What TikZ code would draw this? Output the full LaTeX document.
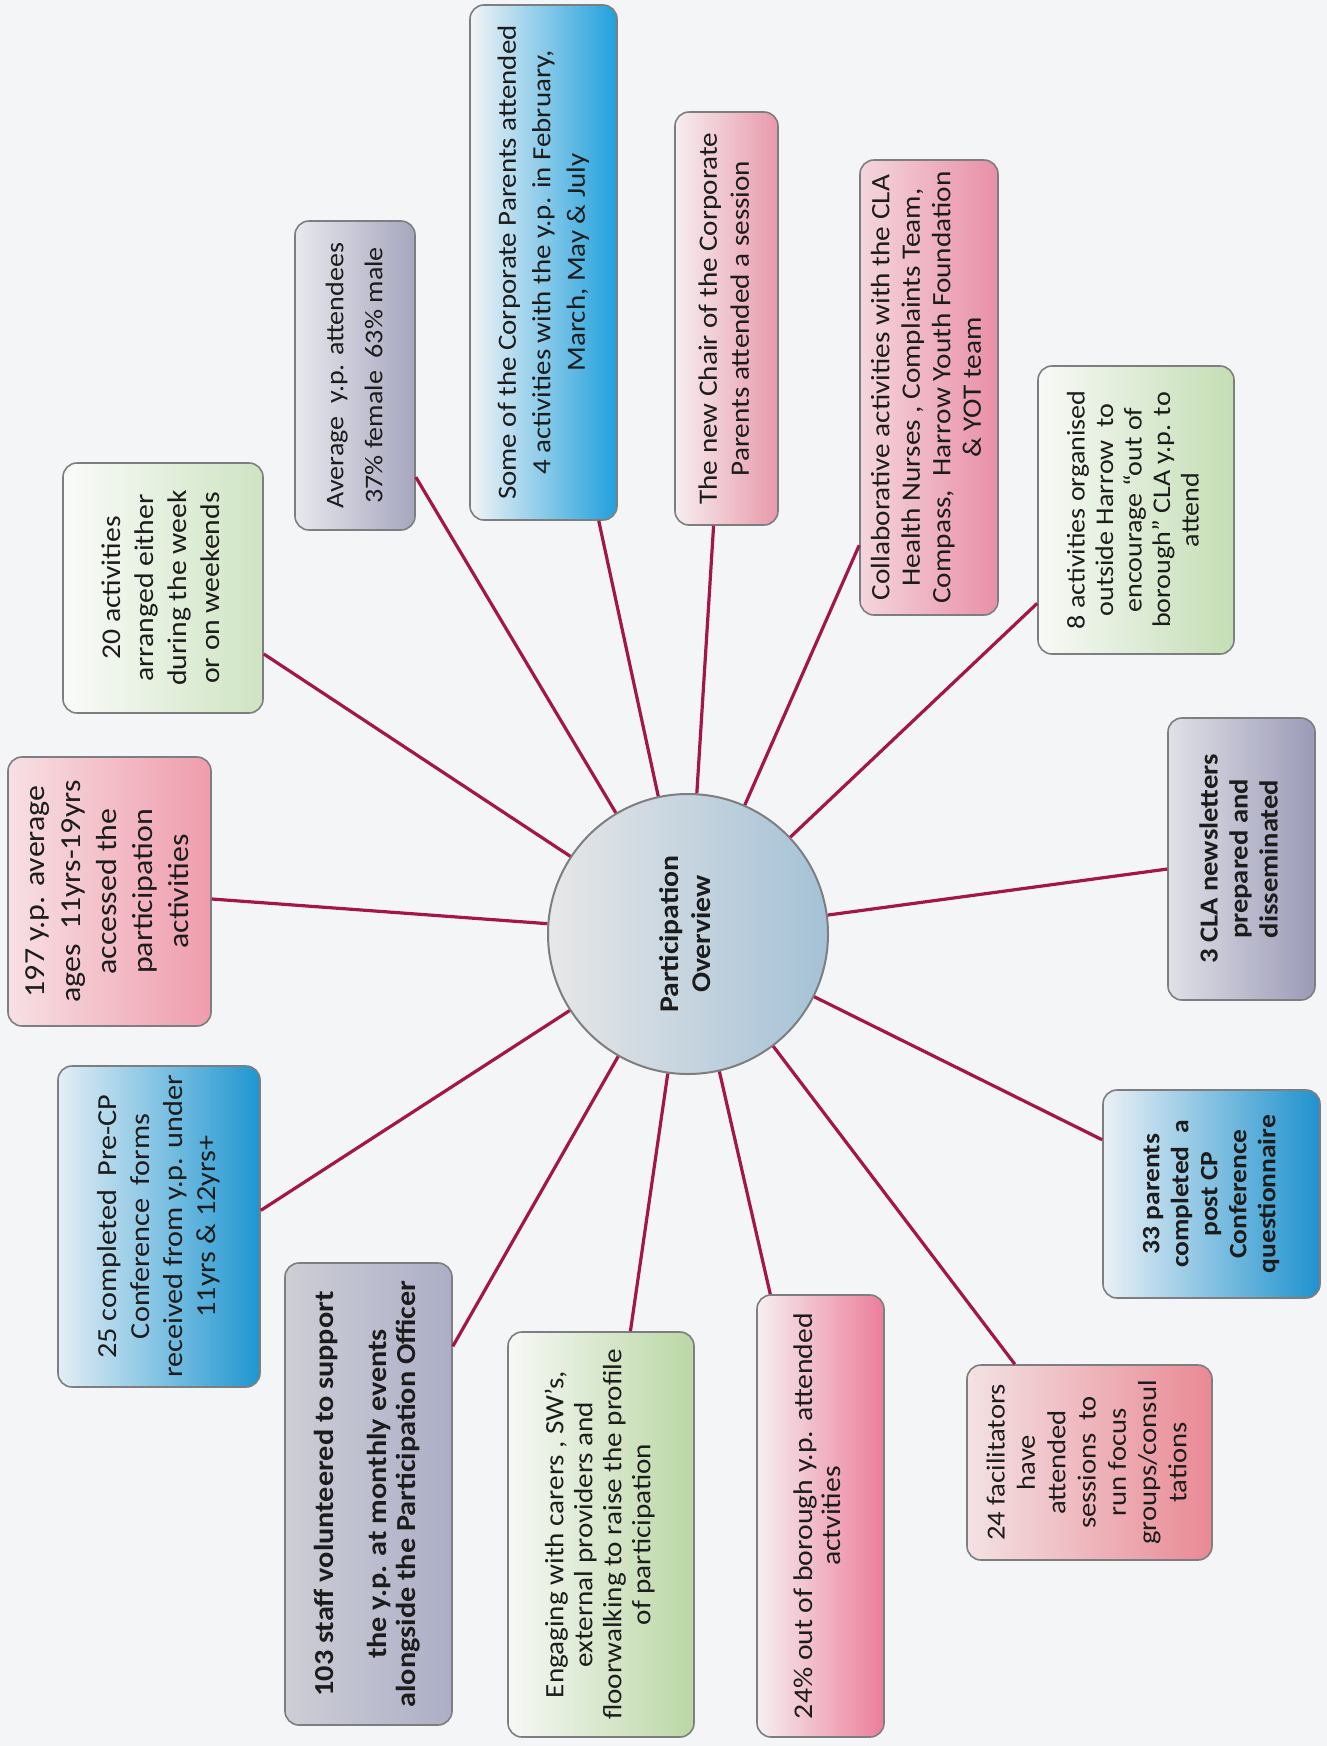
\documentclass[tikz,border=0pt]{standalone}
\usepackage{fontspec}
\usepackage{graphicx}
\setmainfont{Carlito}[FakeStretch=1.1]
\usetikzlibrary{calc}
\definecolor{pagebg}{HTML}{F4F5F7}
\definecolor{boxborder}{HTML}{7E7E80}
\definecolor{spokecol}{HTML}{A2164A}
\definecolor{txt}{HTML}{1C1C1C}
\newcommand{\bxt}[3]{\rotatebox{90}{\fontsize{#1}{#2}\selectfont\begin{tabular}{@{}c@{}}#3\end{tabular}}}
\tikzset{
  bx/.style={draw=boxborder, line width=1.6pt, rounded corners=14pt, inner sep=0pt, text=txt},
  spoke/.style={draw=spokecol, line width=3.2pt},
}
\begin{document}
\begin{tikzpicture}[x=1pt,y=-1pt]
\useasboundingbox[fill=pagebg] (0,0) rectangle (1327,1746);

% central circle
\node[circle, draw=boxborder, line width=2pt, minimum size=280pt, inner sep=0pt,
      left color=white!88!blue!10!gray!20, right color={rgb,255:red,164;green,193;blue,214}, text=txt] (c) at (688,934)
  {\rotatebox{90}{\bfseries\fontsize{27}{32}\selectfont\begin{tabular}{@{}c@{}}Participation\\Overview\end{tabular}}};

% boxes
\node[bx, minimum width=120pt, minimum height=309pt, left color={rgb,255:red,232;green,232;blue,238}, right color={rgb,255:red,166;green,166;blue,190}] (b1) at (355,375.5)
  {\bxt{25.5}{39}{Average\ \ y.p. attendees\\37\% female\ \ 63\% male}};
\node[bx, minimum width=147pt, minimum height=515pt, left color={rgb,255:red,242;green,244;blue,246}, right color={rgb,255:red,32;green,160;blue,220}] (b2) at (543.5,262.5)
  {\bxt{26.3}{34.5}{Some of the Corporate Parents attended\\4 activities with the y.p. in February,\\March, May \& July}};
\node[bx, minimum width=103pt, minimum height=413pt, left color={rgb,255:red,246;green,238;blue,240}, right color={rgb,255:red,232;green,152;blue,170}] (b3) at (726.5,318.5)
  {\bxt{26.5}{32}{The new Chair of the Corporate\\Parents attended a session}};
\node[bx, minimum width=138pt, minimum height=455pt, left color={rgb,255:red,244;green,214;blue,221}, right color={rgb,255:red,233;green,143;blue,167}] (b4) at (929,387.5)
  {\bxt{26.6}{30.5}{Collaborative activities with the CLA\\Health Nurses , Complaints Team,\\Compass,\ \ Harrow Youth Foundation\\\& YOT team}};
\node[bx, minimum width=196pt, minimum height=288pt, left color={rgb,255:red,248;green,249;blue,247}, right color={rgb,255:red,196;green,222;blue,180}] (b5) at (1136,510)
  {\bxt{25.5}{28.5}{8 activities organised\\outside Harrow\ \ to\\encourage “out of\\borough” CLA y.p. to\\attend}};
\node[bx, minimum width=147pt, minimum height=282pt, left color={rgb,255:red,224;green,224;blue,231}, right color={rgb,255:red,155;green,154;blue,183}] (b6) at (1241.5,859)
  {\bfseries\bxt{26}{30}{3 CLA newsletters\\prepared and\\disseminated}};
\node[bx, minimum width=217pt, minimum height=208pt, left color={rgb,255:red,234;green,240;blue,245}, right color={rgb,255:red,30;green,146;blue,206}] (b7) at (1211.5,1194)
  {\bfseries\bxt{25}{29}{33 parents\\completed\ \ a\\post CP\\Conference\\questionnaire}};
\node[bx, minimum width=245pt, minimum height=195pt, left color={rgb,255:red,243;green,226;blue,228}, right color={rgb,255:red,233;green,137;blue,148}] (b8) at (1089.5,1462.5)
  {\bxt{26}{30.3}{24 facilitators\\have\\attended\\sessions\ \ to\\run focus\\groups/consul\\tations}};
\node[bx, minimum width=127pt, minimum height=442pt, left color={rgb,255:red,245;green,239;blue,241}, right color={rgb,255:red,236;green,125;blue,153}] (b9) at (820.5,1516)
  {\bxt{27}{28}{24\% out of borough y.p. attended\\actvities}};
\node[bx, minimum width=186pt, minimum height=405pt, left color={rgb,255:red,247;green,248;blue,246}, right color={rgb,255:red,186;green,215;blue,164}] (b10) at (601,1534.5)
  {\bxt{26.5}{29}{Engaging with carers , SW’s,\\external providers and\\floorwalking to raise the profile\\of participation}};
\node[bx, minimum width=167pt, minimum height=462pt, left color={rgb,255:red,206;green,206;blue,214}, right color={rgb,255:red,172;green,174;blue,198}] (b11) at (368.5,1494)
  {\bfseries\bxt{27.5}{29}{103 staff volunteered to support\\[24pt]the y.p. at monthly events\\alongside the Participation Officer}};
\node[bx, minimum width=202pt, minimum height=321pt, left color={rgb,255:red,228;green,238;blue,245}, right color={rgb,255:red,30;green,150;blue,208}] (b12) at (159,1226.5)
  {\bxt{27.5}{33}{25 completed\ \ Pre-CP\\Conference\ \ forms\\received from y.p. under\\11yrs \& 12yrs+}};
\node[bx, minimum width=203pt, minimum height=269pt, left color={rgb,255:red,247;green,224;blue,228}, right color={rgb,255:red,239;green,156;blue,172}] (b13) at (109.5,891.5)
  {\bxt{29}{36}{197 y.p. average\\ages\ \ 11yrs-19yrs\\accessed the\\participation\\activities}};
\node[bx, minimum width=200pt, minimum height=250pt, left color={rgb,255:red,250;green,251;blue,249}, right color={rgb,255:red,206;green,228;blue,194}] (b14) at (163,588)
  {\bxt{27}{33}{20 activities\\arranged either\\during the week\\or on weekends}};

\coordinate (e12) at ($(b12.north east)!0.45!(b12.south east)$);

% spokes
\foreach \b in {b1,b2,b3,b4,b5,b6,b7,b8,b9,b10,b11,b13,b14}
  \draw[spoke] (c) -- (\b);
\draw[spoke] (c) -- (e12);
\end{tikzpicture}
\end{document}
